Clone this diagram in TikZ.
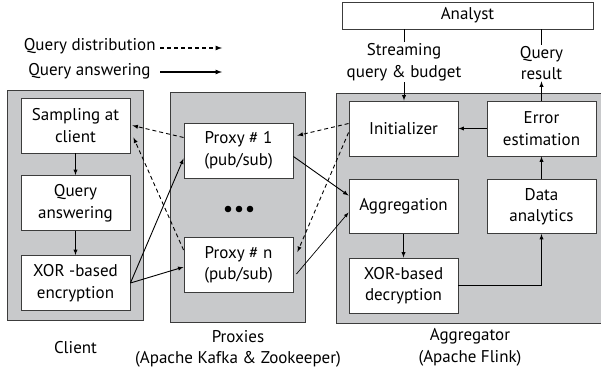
\documentclass[tikz,border=0pt]{standalone}
\usepackage{fontspec}
\setmainfont{PT Sans}
\usetikzlibrary{arrows}

\definecolor{panel}{RGB}{200,201,203}
\definecolor{edge}{RGB}{60,60,60}

\begin{document}
\begin{tikzpicture}[>=latex,x=1pt,y=-1pt,line width=0.9pt,
	txt/.style={font=\fontsize{17}{21.5}\selectfont,align=center,inner sep=1pt},
	box/.style={txt,draw=edge,fill=white,minimum width=109pt,minimum height=55pt},
	panelbox/.style={draw=edge,fill=panel},
	dist/.style={->,dash pattern=on 4pt off 3pt},
	answ/.style={->}]

\useasboundingbox (0,0) rectangle (601,372);

\draw[panelbox] (7,90) rectangle (143,320);
\draw[panelbox] (170,92) rectangle (305,322);
\draw[panelbox] (336,93) rectangle (606,323);

\node[box,minimum width=251pt,minimum height=27pt] (analyst) at (467.5,15.5) {Analyst};

\node[box] (samp) at (75.5,125.5) {Sampling at\\client};
\node[box] (qans) at (75.5,203) {Query\\answering};
\node[box] (enc) at (75.5,283) {XOR -based\\encryption};

\node[box] (px1) at (238.5,150.5) {Proxy \# 1\\(pub/sub)};
\node[box] (pxn) at (238.5,265) {Proxy \# n\\(pub/sub)};

\node[box] (init) at (403.5,128.5) {Initializer};
\node[box] (err) at (541.5,128.5) {Error\\estimation};
\node[box,minimum height=54pt] (aggr) at (403.5,206.5) {Aggregation};
\node[box,minimum height=54pt] (ana) at (541.5,206.5) {Data\\analytics};
\node[box] (dec) at (403.5,285.5) {XOR-based\\decryption};

\fill (228,209) circle[radius=3.3];
\fill (239,209) circle[radius=3.3];
\fill (250,209) circle[radius=3.3];

\node[txt,anchor=east] (legd) at (157,46) {Query distribution};
\node[txt,anchor=east] (lega) at (152,71) {Query answering};
\coordinate (legdend) at (222,48);
\coordinate (legaend) at (222,72);
\draw[dist,line width=1.2pt] (legd.east |- legdend) ++(3,0) -- (legdend);
\draw[answ,line width=1.2pt] (lega.east |- legaend) ++(8,0) -- (legaend);

\node[txt] (client) at (75.5,348) {Client};
\node[txt] (proxies) at (238,349) {Proxies\\(Apache Kafka \& Zookeeper)};
\node[txt] (aggrtor) at (470,347.5) {Aggregator\\(Apache Flink)};

\draw[->] (samp) -- (qans);
\draw[->] (qans) -- (enc);
\draw[->] (aggr) -- (dec);
\draw[->] (ana) -- (err);
\draw[->] (err) -- (init);
\draw[->] (dec.east) -| (ana.south);

\node[txt] (strm) at (404,62) {Streaming\\query \& budget};
\draw (analyst.south -| strm.north) -- (strm.north);
\draw[->] (strm.south) -- (strm.south |- init.north);
\node[txt] (qres) at (541.5,63) {Query\\result};
\draw (analyst.south -| qres.north) -- (qres.north);
\draw[->] (err.north) -- (qres.south);

\draw[dist] ([yshift=5pt]init.west) -- ([shift={(4pt,15pt)}]px1.east);
\draw[dist] ([yshift=-4pt]init.west) -- ([shift={(4pt,13pt)}]pxn.east);
\draw[dist] ([yshift=13pt]px1.west) -- ([xshift=2pt]samp.east);
\draw[dist] ([yshift=15pt]pxn.west) -- ([shift={(3pt,-12pt)}]samp.east);

\draw[answ] (enc.east) -- ([yshift=-8pt]px1.west);
\draw[answ] (enc.east) -- ([yshift=-2pt]pxn.west);
\draw[answ] ([yshift=-6pt]px1.east) -- ([yshift=11pt]aggr.west);
\draw[answ,line width=0.7pt] ([shift={(3pt,-9pt)}]pxn.east) -- ([yshift=-6pt]aggr.west);

\end{tikzpicture}
\end{document}
